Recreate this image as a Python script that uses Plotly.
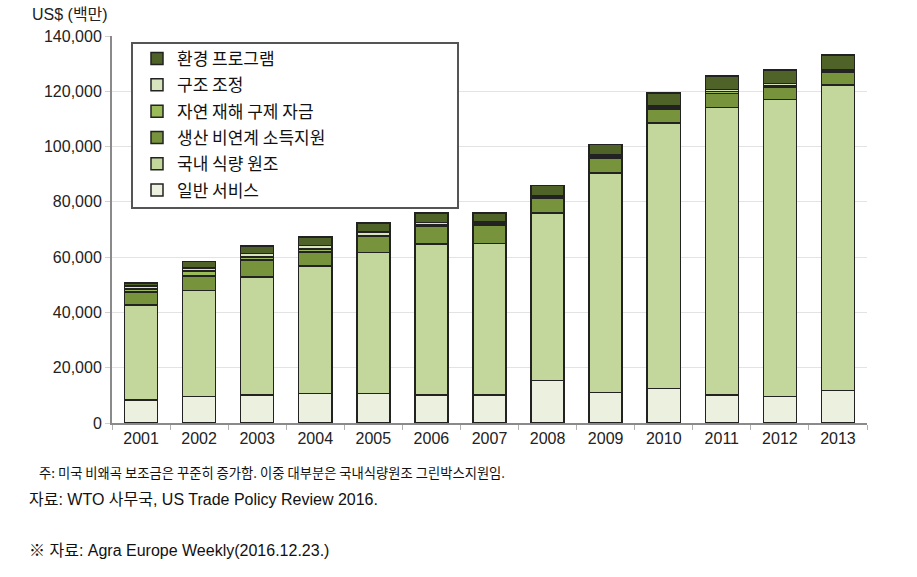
import plotly.graph_objects as go

years = ["2001", "2002", "2003", "2004", "2005", "2006", "2007",
         "2008", "2009", "2010", "2011", "2012", "2013"]

series_names = ["일반 서비스", "국내 식량 원조", "생산 비연계 소득지원",
                "자연 재해 구제 자금", "구조 조정", "환경 프로그램"]

general_services = [8300, 9500, 10100, 10700, 10700, 10100, 10100,
                    15300, 11000, 12500, 10100, 9500, 11700]
food_aid = [34400, 38400, 42800, 46100, 50900, 54700, 54900,
            60600, 79500, 96000, 104100, 107600, 110600]
decoupled_income = [4700, 5300, 6000, 5000, 5900, 6300, 6600,
                    5300, 5200, 5100, 5000, 4300, 4600]
disaster_relief = [1100, 1800, 1200, 1200, 300, 600, 600,
                   600, 600, 600, 650, 600, 570]
structural_adj = [1100, 1100, 1200, 1200, 1300, 800, 600,
                  500, 600, 500, 850, 850, 500]
environment = [1000, 2300, 2750, 3000, 3300, 3400, 3250,
               3600, 3900, 4600, 4900, 4800, 5200]

series_values = [general_services, food_aid, decoupled_income,
                 disaster_relief, structural_adj, environment]
series_colors = ["#ebf1de", "#c3d69b", "#77933c", "#9bbb59", "#d7e4bd", "#4f6228"]

y_ticks = [0, 20000, 40000, 60000, 80000, 100000, 120000, 140000]
y_tick_labels = ["0", "20,000", "40,000", "60,000", "80,000", "100,000", "120,000", "140,000"]

y_title = "US$ (백만)"
notes = [
    "주: 미국 비왜곡 보조금은 꾸준히 증가함. 이중 대부분은 국내식량원조 그린박스지원임.",
    "자료: WTO 사무국, US Trade Policy Review 2016.",
    "※ 자료: Agra Europe Weekly(2016.12.23.)",
]

W, H = 917, 577
L, R, T, B = 112, 50, 36, 154
PW, PH = W - L - R, H - T - B


def px_x(x):
    return (x - L) / PW


def px_y(y):
    return (H - B - y) / PH


fig = go.Figure()
n = len(series_names)
for i, (name, vals, col) in enumerate(zip(series_names, series_values, series_colors)):
    fig.add_trace(go.Bar(
        x=years, y=vals, name=name, legendgroup=f"g{i}",
        legendrank=100 * (n - i),
        marker=dict(color=col, line=dict(color="#222222", width=1.5)),
    ))

tick_font = dict(family="Arial, Liberation Sans, sans-serif", size=16, color="#222222")
kr_font = "Noto Sans CJK KR, sans-serif"
mix_font = "Arial, Liberation Sans, Noto Sans CJK KR, sans-serif"

fig.update_layout(
    width=W, height=H,
    margin=dict(l=L, r=R, t=T, b=B),
    barmode="stack", bargap=0.43,
    plot_bgcolor="white", paper_bgcolor="white",
    showlegend=True,
    legend=dict(
        x=px_x(137), y=px_y(41), xanchor="left", yanchor="top",
        traceorder="grouped", tracegroupgap=1.2,
        bgcolor="rgba(0,0,0,0)", borderwidth=0,
        font=dict(family=kr_font, size=17, color="#111111"),
    ),
    xaxis=dict(
        type="category", showgrid=False,
        showline=True, linecolor="#8a8a8a", linewidth=2,
        ticks="outside", tickson="boundaries", ticklen=5, tickcolor="#b0b0b0",
        tickfont=tick_font,
    ),
    yaxis=dict(
        range=[0, 140000], tickvals=y_ticks, ticktext=y_tick_labels,
        showgrid=True, gridcolor="#e3e3e3", gridwidth=1,
        showline=True, linecolor="#8a8a8a", linewidth=2,
        ticks="outside", ticklen=5, tickcolor="#d0d0d0",
        tickfont=tick_font, zeroline=False,
    ),
    shapes=[dict(
        type="rect", xref="paper", yref="paper",
        x0=px_x(132), x1=px_x(458), y0=px_y(208), y1=px_y(43),
        fillcolor="white", line=dict(color="#555555", width=2), layer="above",
    )],
)

annotations = [
    dict(text=y_title, x=px_x(30), y=px_y(15), xanchor="left", yanchor="middle",
         font=dict(family=mix_font, size=16, color="#222222")),
    dict(text=notes[0], x=px_x(37), y=px_y(472), xanchor="left", yanchor="middle",
         font=dict(family=kr_font, size=13.3, color="#111111")),
    dict(text=notes[1], x=px_x(27), y=px_y(499), xanchor="left", yanchor="middle",
         font=dict(family=mix_font, size=16, color="#111111")),
    dict(text=notes[2], x=px_x(27), y=px_y(550), xanchor="left", yanchor="middle",
         font=dict(family=mix_font, size=16, color="#111111")),
]
for a in annotations:
    a.update(xref="paper", yref="paper", showarrow=False)
fig.update_layout(annotations=annotations)

fig.write_html("out.html", config={"displayModeBar": False},
               post_script="document.body.style.margin='0';")
